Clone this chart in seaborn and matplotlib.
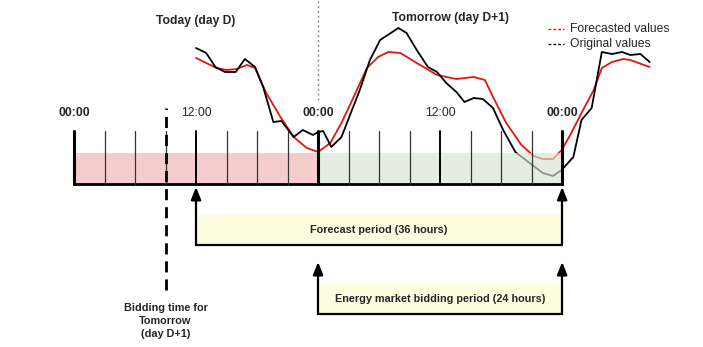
import numpy as np
import pandas as pd
import matplotlib.pyplot as plt
import seaborn as sns

# hours counted from 00:00 of day D
orig_hours = [12.0, 13.0, 13.9, 14.85, 15.9, 16.8, 17.8, 18.6, 19.6, 20.4, 21.6, 22.5, 23.5,
              24.0, 24.5, 25.3, 26.3, 28.1, 29.1, 30.1, 31.9, 32.7, 33.7, 34.8, 35.7, 36.6,
              37.6, 38.4, 39.3, 40.2, 41.2, 42.2, 43.4, 44.8, 46.1, 47.1, 47.95, 49.1, 49.9,
              50.9, 51.9, 52.9, 53.9, 54.7, 55.7, 56.6]
orig_values = [299, 294, 280, 275, 275, 288, 280, 260, 225, 226, 210, 217, 212,
               215, 216, 200, 210, 257, 287, 307, 319, 314, 297, 280, 275, 264,
               255, 245, 249, 248, 239, 217, 195, 184, 174, 171, 177, 190, 227,
               239, 295, 293, 295, 292, 293, 285]

fc_hours = [12.0, 13.0, 14.0, 15.0, 16.0, 17.0, 17.8, 18.9, 20.3, 21.6, 22.9, 24.0, 25.2,
            26.3, 27.5, 28.8, 29.9, 30.9, 32.1, 33.7, 35.7, 37.6, 39.3, 40.4, 41.2, 42.5,
            44.0, 45.2, 46.1, 47.1, 47.95, 48.9, 49.9, 51.1, 51.9, 52.9, 54.0, 54.7, 56.6]
fc_values = [289, 284, 279, 277, 278, 282, 279, 254, 230, 210, 199, 195, 204,
             224, 250, 279, 290, 295, 294, 284, 272, 268, 270, 267, 250, 224,
             202, 191, 188, 188, 197, 214, 234, 257, 279, 285, 288, 287, 280]

tick_hours = [0, 3, 6, 9, 12, 15, 18, 21, 24, 27, 30, 33, 36, 39, 42, 45, 48]
label_hours = [0, 12, 24, 36, 48]
label_texts = ["00:00", "12:00", "00:00", "12:00", "00:00"]
bidding_hour = 9

curves = pd.concat([
    pd.DataFrame({"hour": fc_hours, "value": fc_values, "series": "Forecasted values"}),
    pd.DataFrame({"hour": orig_hours, "value": orig_values, "series": "Original values"}),
])

sns.set_style("white")
plt.rcParams['font.family'] = ['Liberation Sans', 'DejaVu Sans']

fig = plt.figure(figsize=(7.03, 3.47), dpi=100)
ax = fig.add_axes([0, 0, 1, 1])
px_per_hour = 10.17
ax.set_xlim(-74 / px_per_hour, (703 - 74) / px_per_hour)
ax.set_ylim(0, 347)
ax.axis('off')

sns.lineplot(data=curves, x="hour", y="value", hue="series",
             palette={"Forecasted values": "#e8140f", "Original values": "black"},
             linewidth=1.3, ax=ax, legend=False, sort=False, zorder=3)

# timeline box
box_bottom, fill_top, tick_top = 163, 194, 216
ax.fill_between([0, 24], box_bottom, fill_top, color="#f2b8b8", alpha=0.7, lw=0, zorder=4)
ax.fill_between([24, 48], box_bottom, fill_top, color="#d6e6d0", alpha=0.65, lw=0, zorder=4)
ax.plot([0, 48], [box_bottom, box_bottom], color="black", lw=2, zorder=5,
        solid_capstyle='projecting')
for h in tick_hours:
    if h % 24 == 0:
        lw, col = 2.2, "black"
    elif h % 12 == 0:
        lw, col = 1.4, "black"
    else:
        lw, col = 0.9, "#333333"
    ax.plot([h, h], [box_bottom, tick_top], color=col, lw=lw, zorder=5)

for h, t in zip(label_hours, label_texts):
    bold = h % 24 == 0
    ax.text(h, 234, t, ha="center", va="center", fontsize=8.8,
            fontweight="bold" if bold else "normal")

# day separator and bidding time
ax.plot([24, 24], [247, 347], color="#888888", lw=1, ls=(0, (1.5, 2)), zorder=2)
ax.plot([bidding_hour] * 2, [57, 239], color="black", lw=2, ls=(0, (4, 2.5)), zorder=6)
ax.text(bidding_hour, 26, "Bidding time for\nTomorrow\n(day D+1)", ha="center", va="center",
        fontsize=7.8, fontweight="bold", linespacing=1.4)

ax.text(12, 326, "Today (day D)", ha="center", va="center", fontsize=8.7, fontweight="bold")
ax.text(37, 329, "Tomorrow (day D+1)", ha="center", va="center", fontsize=8.7, fontweight="bold")


def period(x0, x1, tip, bottom, fill_top, label):
    ax.fill_between([x0, x1], bottom, fill_top, color="#fdfde0", lw=0, zorder=1)
    ax.plot([x0, x0, x1, x1], [tip - 6, bottom, bottom, tip - 6], color="black", lw=1.6,
            zorder=5, solid_joinstyle='miter')
    for x in (x0, x1):
        ax.annotate("", xy=(x, tip), xytext=(x, tip - 12),
                    arrowprops=dict(arrowstyle="-|>,head_length=0.75,head_width=0.3",
                                    color="black", lw=1.6, shrinkA=0, shrinkB=0))
    ax.text((x0 + x1) / 2, (bottom + fill_top) / 2, label, ha="center", va="center",
            fontsize=7.8, fontweight="bold", zorder=6)


period(12, 48, 160, 102, 132, "Forecast period (36 hours)")
period(24, 48, 85, 33, 63, "Energy market bidding period (24 hours)")

# legend
for i, (lab, col) in enumerate([("Forecasted values", "#e8140f"), ("Original values", "black")]):
    y = 318 - i * 15
    ax.plot([46.6, 48.2], [y, y], color=col, lw=1, ls=(0, (2, 1.5)))
    ax.text(48.8, y, lab, ha="left", va="center", fontsize=8.7)

fig.savefig("out.png", dpi=100)
